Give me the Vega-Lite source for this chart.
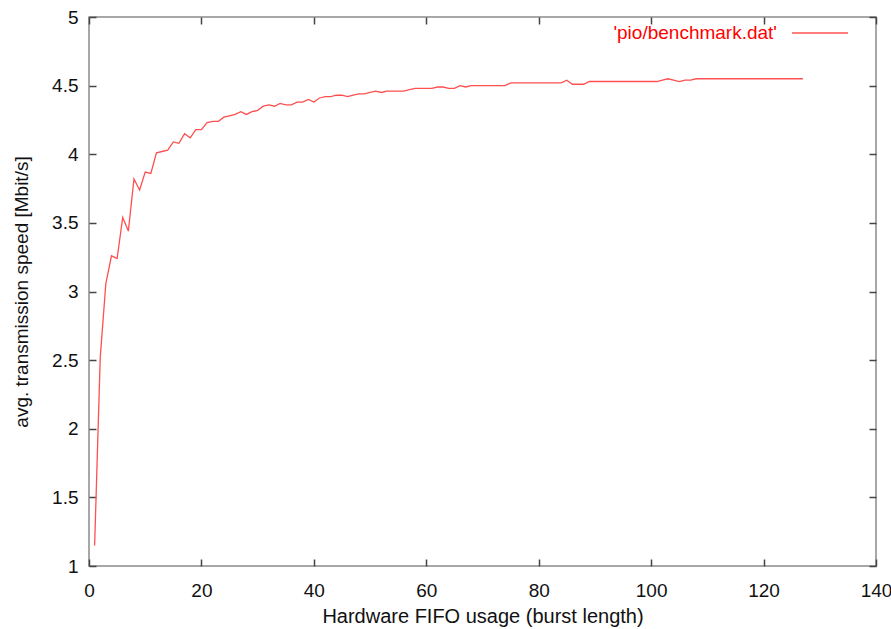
{
  "$schema": "https://vega.github.io/schema/vega-lite/v6.json",
  "width": 787,
  "height": 549,
  "autosize": {"type": "none"},
  "padding": {"left": 89, "top": 17, "right": 15, "bottom": 63},
  "background": "white",
  "config": {
    "view": {"stroke": "#8a8a8a", "strokeWidth": 1.5},
    "font": "Liberation Sans",
    "axis": {
      "labelFont": "Liberation Sans",
      "titleFont": "Liberation Sans",
      "labelColor": "#111",
      "titleColor": "#111",
      "labelFontSize": 19,
      "titleFontSize": 20,
      "titleFontWeight": "normal",
      "grid": false,
      "domain": false,
      "ticks": true,
      "tickColor": "#444",
      "tickWidth": 1.5,
      "tickSize": -7
    },
    "legend": {"labelFont": "Liberation Sans"}
  },
  "data": {
    "values": [
      {"burst": 1, "speed": 1.15}, {"burst": 2, "speed": 2.52}, {"burst": 3, "speed": 3.06}, {"burst": 4, "speed": 3.26},
      {"burst": 5, "speed": 3.24}, {"burst": 6, "speed": 3.54}, {"burst": 7, "speed": 3.44}, {"burst": 8, "speed": 3.82},
      {"burst": 9, "speed": 3.74}, {"burst": 10, "speed": 3.87}, {"burst": 11, "speed": 3.86}, {"burst": 12, "speed": 4.01},
      {"burst": 13, "speed": 4.02}, {"burst": 14, "speed": 4.03}, {"burst": 15, "speed": 4.09}, {"burst": 16, "speed": 4.08},
      {"burst": 17, "speed": 4.15}, {"burst": 18, "speed": 4.12}, {"burst": 19, "speed": 4.18}, {"burst": 20, "speed": 4.18},
      {"burst": 21, "speed": 4.23}, {"burst": 22, "speed": 4.24}, {"burst": 23, "speed": 4.24}, {"burst": 24, "speed": 4.27},
      {"burst": 25, "speed": 4.28}, {"burst": 26, "speed": 4.29}, {"burst": 27, "speed": 4.31}, {"burst": 28, "speed": 4.29},
      {"burst": 29, "speed": 4.31}, {"burst": 30, "speed": 4.32}, {"burst": 31, "speed": 4.35}, {"burst": 32, "speed": 4.36},
      {"burst": 33, "speed": 4.35}, {"burst": 34, "speed": 4.37}, {"burst": 35, "speed": 4.36}, {"burst": 36, "speed": 4.36},
      {"burst": 37, "speed": 4.38}, {"burst": 38, "speed": 4.38}, {"burst": 39, "speed": 4.4}, {"burst": 40, "speed": 4.38},
      {"burst": 41, "speed": 4.41}, {"burst": 42, "speed": 4.42}, {"burst": 43, "speed": 4.42}, {"burst": 44, "speed": 4.43},
      {"burst": 45, "speed": 4.43}, {"burst": 46, "speed": 4.42}, {"burst": 47, "speed": 4.43}, {"burst": 48, "speed": 4.44},
      {"burst": 49, "speed": 4.44}, {"burst": 50, "speed": 4.45}, {"burst": 51, "speed": 4.46}, {"burst": 52, "speed": 4.45},
      {"burst": 53, "speed": 4.46}, {"burst": 54, "speed": 4.46}, {"burst": 55, "speed": 4.46}, {"burst": 56, "speed": 4.46},
      {"burst": 57, "speed": 4.47}, {"burst": 58, "speed": 4.48}, {"burst": 59, "speed": 4.48}, {"burst": 60, "speed": 4.48},
      {"burst": 61, "speed": 4.48}, {"burst": 62, "speed": 4.49}, {"burst": 63, "speed": 4.49}, {"burst": 64, "speed": 4.48},
      {"burst": 65, "speed": 4.48}, {"burst": 66, "speed": 4.5}, {"burst": 67, "speed": 4.49}, {"burst": 68, "speed": 4.5},
      {"burst": 69, "speed": 4.5}, {"burst": 70, "speed": 4.5}, {"burst": 71, "speed": 4.5}, {"burst": 72, "speed": 4.5},
      {"burst": 73, "speed": 4.5}, {"burst": 74, "speed": 4.5}, {"burst": 75, "speed": 4.52}, {"burst": 76, "speed": 4.52},
      {"burst": 77, "speed": 4.52}, {"burst": 78, "speed": 4.52}, {"burst": 79, "speed": 4.52}, {"burst": 80, "speed": 4.52},
      {"burst": 81, "speed": 4.52}, {"burst": 82, "speed": 4.52}, {"burst": 83, "speed": 4.52}, {"burst": 84, "speed": 4.52},
      {"burst": 85, "speed": 4.54}, {"burst": 86, "speed": 4.51}, {"burst": 87, "speed": 4.51}, {"burst": 88, "speed": 4.51},
      {"burst": 89, "speed": 4.53}, {"burst": 90, "speed": 4.53}, {"burst": 91, "speed": 4.53}, {"burst": 92, "speed": 4.53},
      {"burst": 93, "speed": 4.53}, {"burst": 94, "speed": 4.53}, {"burst": 95, "speed": 4.53}, {"burst": 96, "speed": 4.53},
      {"burst": 97, "speed": 4.53}, {"burst": 98, "speed": 4.53}, {"burst": 99, "speed": 4.53}, {"burst": 100, "speed": 4.53},
      {"burst": 101, "speed": 4.53}, {"burst": 102, "speed": 4.54}, {"burst": 103, "speed": 4.55}, {"burst": 104, "speed": 4.54},
      {"burst": 105, "speed": 4.53}, {"burst": 106, "speed": 4.54}, {"burst": 107, "speed": 4.54}, {"burst": 108, "speed": 4.55},
      {"burst": 109, "speed": 4.55}, {"burst": 110, "speed": 4.55}, {"burst": 111, "speed": 4.55}, {"burst": 112, "speed": 4.55},
      {"burst": 113, "speed": 4.55}, {"burst": 114, "speed": 4.55}, {"burst": 115, "speed": 4.55}, {"burst": 116, "speed": 4.55},
      {"burst": 117, "speed": 4.55}, {"burst": 118, "speed": 4.55}, {"burst": 119, "speed": 4.55}, {"burst": 120, "speed": 4.55},
      {"burst": 121, "speed": 4.55}, {"burst": 122, "speed": 4.55}, {"burst": 123, "speed": 4.55}, {"burst": 124, "speed": 4.55},
      {"burst": 125, "speed": 4.55}, {"burst": 126, "speed": 4.55}, {"burst": 127, "speed": 4.55}
    ]
  },
  "transform": [{"calculate": "\"'pio/benchmark.dat'\"", "as": "series"}],
  "layer": [
    {
      "mark": {"type": "line", "strokeWidth": 1.3, "interpolate": "linear"},
      "encoding": {
        "x": {
          "field": "burst", "type": "quantitative",
          "scale": {"domain": [0, 140], "nice": false, "zero": false},
          "axis": {"orient": "bottom", "values": [0, 20, 40, 60, 80, 100, 120, 140], "labelPadding": 22, "title": "Hardware  FIFO usage (burst length)", "titlePadding": 6, "labelFlush": false}
        },
        "y": {
          "field": "speed", "type": "quantitative",
          "scale": {"domain": [1, 5], "nice": false, "zero": false},
          "axis": {"orient": "left", "values": [1, 1.5, 2, 2.5, 3, 3.5, 4, 4.5, 5], "format": ".1~f", "labelPadding": 18, "title": "avg. transmission speed [Mbit/s]", "titleFontSize": 19, "titlePadding": 20, "labelFlush": false}
        },
        "color": {
          "field": "series", "type": "nominal",
          "scale": {"range": ["#ff5050"]},
          "legend": {
            "title": null,
            "orient": "none",
            "legendX": 702,
            "legendY": -13,
            "symbolType": "stroke",
            "symbolSize": 3136,
            "symbolStrokeWidth": 1.3,
            "labelAlign": "right",
            "labelOffset": -72,
            "labelFontSize": 19,
            "labelColor": "#ff0000",
            "labelLimit": 400
          }
        }
      }
    },
    {
      "mark": {"type": "line", "opacity": 0},
      "encoding": {
        "x": {"field": "burst", "type": "quantitative", "axis": {"orient": "top", "values": [0, 20, 40, 60, 80, 100, 120, 140], "labels": false, "title": null}},
        "y": {"field": "speed", "type": "quantitative", "axis": {"orient": "right", "values": [1, 1.5, 2, 2.5, 3, 3.5, 4, 4.5, 5], "labels": false, "title": null}}
      }
    }
  ],
  "resolve": {"axis": {"x": "independent", "y": "independent"}}
}
